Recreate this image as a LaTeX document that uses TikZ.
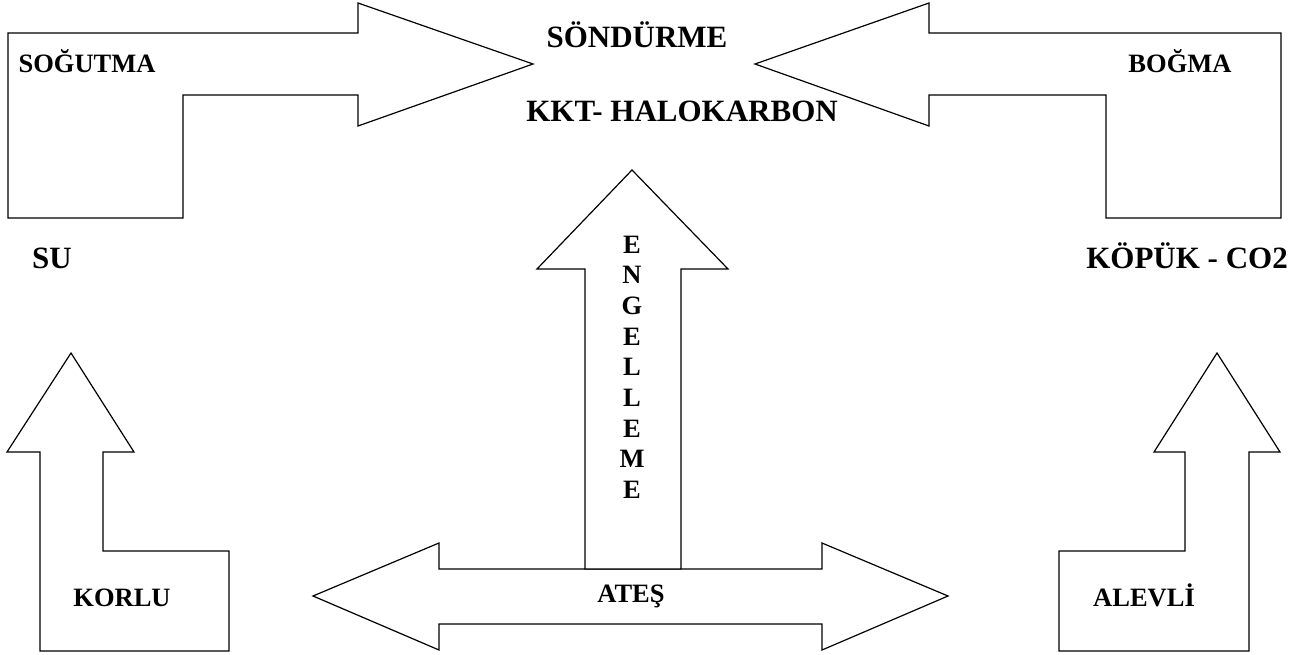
\documentclass[tikz,border=0pt]{standalone}
\usepackage{fontspec}
\setmainfont{Liberation Serif}
\begin{document}
\begin{tikzpicture}[x=1pt,y=-1pt,
  arrowshape/.style={draw=black,line width=1.2pt,line join=miter,fill=white},
  bigtext/.style={font=\fontsize{31}{36}\selectfont\bfseries,inner sep=0pt,anchor=base},
  smalltext/.style={font=\fontsize{26.5}{30.7}\selectfont\bfseries,inner sep=0pt,anchor=base}]
\useasboundingbox (0,0) rectangle (1303,655);
% top-left arrow (SOGUTMA)
\draw[arrowshape] (8,33) -- (358,33) -- (358,3) -- (533,64) -- (358,126) -- (358,95)
  -- (183,95) -- (183,218) -- (8,218) -- cycle;
% top-right arrow (BOGMA)
\draw[arrowshape] (1281,33) -- (929,33) -- (929,3) -- (755,64) -- (929,126) -- (929,95)
  -- (1106,95) -- (1106,218) -- (1281,218) -- cycle;
% bottom-left arrow (KORLU)
\draw[arrowshape] (40,651) -- (40,452) -- (7,452) -- (71,353) -- (134,452) -- (103,452)
  -- (103,551) -- (229,551) -- (229,651) -- cycle;
% bottom-right arrow (ALEVLI)
\draw[arrowshape] (1249,651) -- (1249,452) -- (1280,452) -- (1217,353) -- (1154,452) -- (1185,452)
  -- (1185,551) -- (1059,551) -- (1059,651) -- cycle;
% double arrow (ATES)
\draw[arrowshape] (313,596) -- (439,543) -- (439,569) -- (822,569) -- (822,543) -- (948,596)
  -- (822,650) -- (822,624) -- (439,624) -- (439,650) -- cycle;
% up arrow (ENGELLEME)
\draw[arrowshape] (585,569) -- (585,269) -- (537,269) -- (632,170) -- (728,269) -- (681,269)
  -- (681,569) -- cycle;
% texts
\node[smalltext] (sogutma) at (87,73) {SOĞUTMA};
\node[bigtext] (sondurme) at (637,48) {SÖNDÜRME};
\node[bigtext] (kkt) at (682,122) {KKT- HALOKARBON};
\node[smalltext] (bogma) at (1180,73) {BOĞMA};
\node[bigtext] (su) at (52,268) {SU};
\node[bigtext] (kopuk) at (1187,268) {KÖPÜK - CO2};
\node[smalltext] (korlu) at (122,606) {KORLU};
\node[smalltext] (alevli) at (1144,606) {ALEVLİ};
\node[smalltext] (ates) at (631,602) {ATEŞ};
\node[smalltext,anchor=north,align=center] (engel) at (632,235.5) {E\\N\\G\\E\\L\\L\\E\\M\\E};
\end{tikzpicture}
\end{document}
